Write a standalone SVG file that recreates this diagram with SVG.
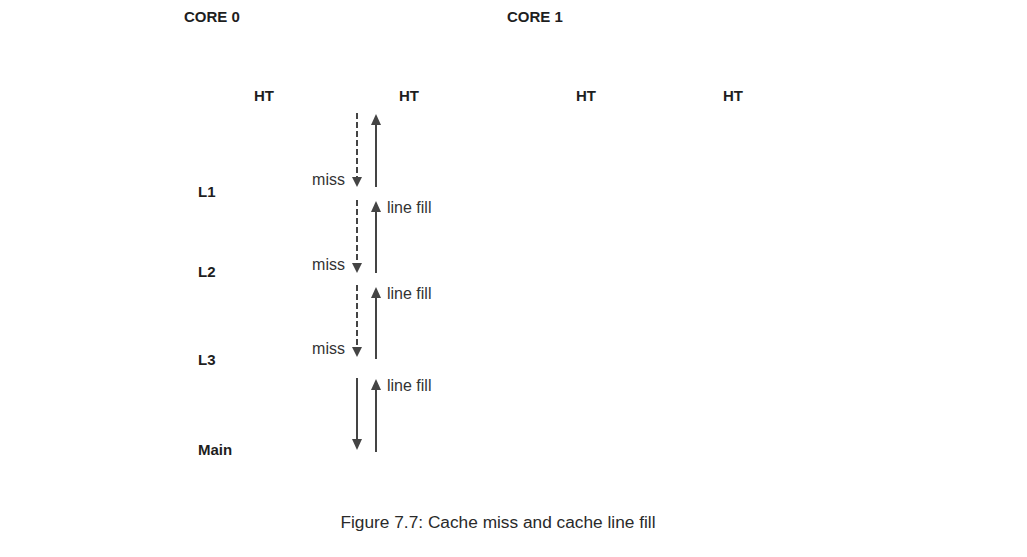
<svg xmlns="http://www.w3.org/2000/svg" width="1027" height="557" viewBox="0 0 1027 557">
<style>
.h{font-family:"Liberation Sans",Arial,sans-serif;font-weight:bold;font-size:15px;fill:#1e1e1e}
.l{font-family:"Liberation Sans",Arial,sans-serif;font-size:16px;fill:#333}
.c{font-family:"Liberation Sans",Arial,sans-serif;font-size:17.3px;fill:#2a2a2a}
.d{stroke:#444;stroke-width:2;stroke-dasharray:6,3;fill:none}
.s{stroke:#444;stroke-width:2;fill:none}
.hd{fill:#444}
</style>
<rect width="1027" height="557" fill="#fff"/>
<g id="core0"><text class="h" x="184" y="22">CORE 0</text></g>
<g id="core1"><text class="h" x="507" y="22">CORE 1</text></g>
<g id="ht1"><text class="h" x="264" y="101" text-anchor="middle">HT</text></g>
<g id="ht2"><text class="h" x="409" y="101" text-anchor="middle">HT</text></g>
<g id="ht3"><text class="h" x="586" y="101" text-anchor="middle">HT</text></g>
<g id="ht4"><text class="h" x="733" y="101" text-anchor="middle">HT</text></g>
<g id="l1"><text class="h" x="198" y="197">L1</text></g>
<g id="l2"><text class="h" x="198" y="277">L2</text></g>
<g id="l3"><text class="h" x="198" y="365">L3</text></g>
<g id="main"><text class="h" x="198" y="455">Main</text></g>
<g id="connectors">
<line class="d" x1="357" y1="113" x2="357" y2="177"/>
<polygon class="hd" points="352,177 362,177 357,187"/>
<line class="s" x1="376" y1="187" x2="376" y2="124"/>
<polygon class="hd" points="371,125 381,125 376,114"/>
<text class="l" x="345" y="185" text-anchor="end">miss</text>

<line class="d" x1="357" y1="200" x2="357" y2="263"/>
<polygon class="hd" points="352,263 362,263 357,273"/>
<line class="s" x1="376" y1="273" x2="376" y2="210"/>
<polygon class="hd" points="371,212 381,212 376,201"/>
<text class="l" x="387" y="213">line fill</text>
<text class="l" x="345" y="270" text-anchor="end">miss</text>

<line class="d" x1="357" y1="285" x2="357" y2="347"/>
<polygon class="hd" points="352,347 362,347 357,357"/>
<line class="s" x1="376" y1="359" x2="376" y2="296"/>
<polygon class="hd" points="371,298 381,298 376,287"/>
<text class="l" x="387" y="299">line fill</text>
<text class="l" x="345" y="354" text-anchor="end">miss</text>

<line class="s" x1="357" y1="378" x2="357" y2="440"/>
<polygon class="hd" points="352,439 362,439 357,450"/>
<line class="s" x1="376" y1="452" x2="376" y2="388"/>
<polygon class="hd" points="371,390 381,390 376,379"/>
<text class="l" x="387" y="391">line fill</text>
</g>
<text class="c" x="498" y="528" text-anchor="middle">Figure 7.7: Cache miss and cache line fill</text>
</svg>
